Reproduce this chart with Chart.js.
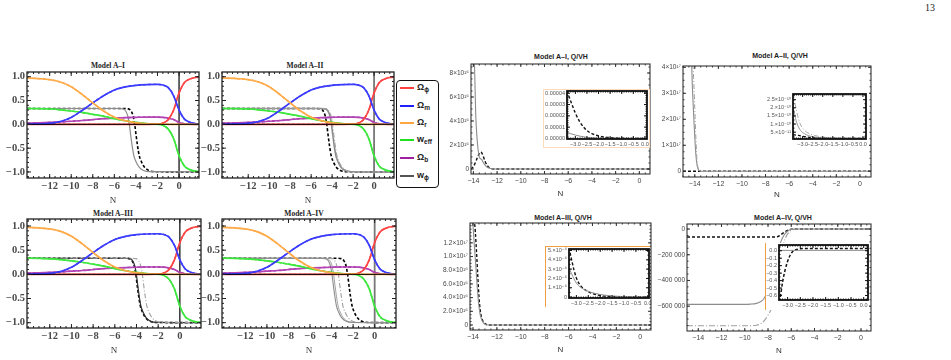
<!DOCTYPE html>
<html>
<head>
<meta charset="utf-8">
<script src="https://cdn.jsdelivr.net/npm/chart.js@4.4.1/dist/chart.umd.min.js"></script>
<style>
  html, body { margin: 0; padding: 0; background: #fff; }
  #page { position: relative; width: 951px; height: 360px; overflow: hidden; }
  canvas { position: absolute; }
  .ttl { position: absolute; transform: translateX(-50%); white-space: nowrap; line-height: 10px; }
  .serif { font-family: "Liberation Serif", serif; font-weight: bold; font-size: 7.5px; color: #222; }
  .sans { font-family: "Liberation Sans", Arial, sans-serif; font-weight: bold; font-size: 7px; color: #222; }
  .box { position: absolute; background: #fff; box-sizing: border-box; }
  #legend { position: absolute; left: 396px; top: 80px; width: 43px; height: 108px; box-sizing: border-box;
            border: 1px solid #111; border-radius: 4px; background: #fff; }
  .li { position: absolute; left: 3px; height: 12px; line-height: 12px; font: bold 9px "Liberation Sans", Arial, sans-serif; color: #222; }
  .li i { display: inline-block; width: 14px; height: 2px; vertical-align: middle; margin-right: 3px; }
  .li sub { font-size: 6.5px; vertical-align: -2px; }
  #pg { position: absolute; left: 925px; top: 2px; font: 10px "Liberation Serif", serif; color: #222; }
</style>
</head>
<body>
<div id="page">
  <div id="pg">13</div>
  <div class="ttl serif" style="left:108px;top:61px">Model A–I</div>
  <div class="ttl serif" style="left:305px;top:61px">Model A–II</div>
  <div class="ttl serif" style="left:113px;top:209px">Model A–III</div>
  <div class="ttl serif" style="left:304px;top:209px">Model A–IV</div>
  <div class="ttl sans" style="left:561px;top:52px">Model A–I, Q/VH</div>
  <div class="ttl sans" style="left:780px;top:51px">Model A–II, Q/VH</div>
  <div class="ttl sans" style="left:563px;top:213px">Model A–III, Q/VH</div>
  <div class="ttl sans" style="left:783px;top:213px">Model A–IV, Q/VH</div>
  <div id="legend">
    <div class="li" style="top:1px"><i style="background:#ff4040"></i>Ω<sub>ϕ</sub></div>
    <div class="li" style="top:19px"><i style="background:#2020ff"></i>Ω<sub>m</sub></div>
    <div class="li" style="top:36px"><i style="background:#ffa640"></i>Ω<sub>r</sub></div>
    <div class="li" style="top:53px"><i style="background:#20e020"></i>w<sub>eff</sub></div>
    <div class="li" style="top:71px"><i style="background:#a020a0"></i>Ω<sub>b</sub></div>
    <div class="li" style="top:89px"><i style="background:#555"></i>w<sub>ϕ</sub></div>
  </div>
</div>
<script>
// ─── left panels: density parameters and EoS vs N ─────────────────────────────
const nOmega   = [-14.5, -14, -13, -12, -11, -10, -9, -8, -7, -6, -5, -4, -3, -2, -1.5, -1, -0.5, 0, 0.5, 1, 1.5, 2];
const omegaPhi = [0, 0, 0, 0, 0, 0, 0, 0, 0, 0, 0, 0, 0.001, 0.004, 0.025, 0.1, 0.3, 0.66, 0.878, 0.951, 0.984, 0.994];
const omegaM   = [0.001, 0.003, 0.008, 0.02, 0.06, 0.145, 0.29, 0.45, 0.6, 0.72, 0.785, 0.82, 0.835, 0.84, 0.825, 0.77, 0.6, 0.3, 0.11, 0.045, 0.015, 0.006];
const omegaR   = [0.972, 0.97, 0.96, 0.94, 0.89, 0.79, 0.63, 0.45, 0.28, 0.15, 0.075, 0.033, 0.012, 0.004, 0.002, 0.001, 0, 0, 0, 0, 0, 0];
const wEff     = [0.333, 0.333, 0.33, 0.322, 0.305, 0.28, 0.25, 0.21, 0.17, 0.12, 0.075, 0.04, 0.015, 0, -0.02, -0.1, -0.3, -0.66, -0.878, -0.951, -0.984, -0.994];
const omegaB   = [0.027, 0.027, 0.032, 0.04, 0.05, 0.065, 0.08, 0.1, 0.12, 0.13, 0.14, 0.147, 0.152, 0.152, 0.148, 0.13, 0.1, 0.04, 0.012, 0.004, 0.001, 0];

// w_phi transition shape, and the N values for each model's curves
const wPhiDrop   = [0.333, 0.333, 0.325, 0.28, 0.17, -0.02, -0.2, -0.45, -0.65, -0.78, -0.9, -0.97, -0.995, -1];
const nW1Solid   = [-14.5, -5.7, -5.2, -4.95, -4.75, -4.6, -4.5, -4.35, -4.2, -4.0, -3.7, -3.3, -2.7, 2];
const nW1Dash    = [-14.5, -5.2, -4.7, -4.45, -4.25, -4.1, -4.0, -3.85, -3.7, -3.5, -3.2, -2.8, -2.2, 2];
const nW2Dash    = [-14.5, -5.6, -5.1, -4.85, -4.65, -4.5, -4.4, -4.25, -4.1, -3.9, -3.6, -3.2, -2.6, 2];
const nW2Solid   = [-14.5, -5.15, -4.65, -4.4, -4.2, -4.05, -3.95, -3.8, -3.65, -3.45, -3.15, -2.75, -2.15, 2];
const nW2DashDot = [-14.5, -5.05, -4.55, -4.3, -4.1, -3.95, -3.85, -3.7, -3.55, -3.35, -3.05, -2.65, -2.05, 2];
const nW3Dash    = [-14.5, -5.15, -4.65, -4.4, -4.2, -4.05, -3.95, -3.8, -3.65, -3.45, -3.15, -2.75, -2.15, 2];
const nW3Solid   = [-14.5, -5.1, -4.6, -4.35, -4.15, -4.0, -3.9, -3.75, -3.6, -3.4, -3.1, -2.7, -2.1, 2];
const nW3DashDot = [-14.5, -4.55, -4.05, -3.8, -3.6, -3.45, -3.35, -3.2, -3.05, -2.85, -2.55, -2.15, -1.55, 2];
const nW4Solid   = [-14.5, -5.05, -4.55, -4.3, -4.1, -3.95, -3.85, -3.7, -3.55, -3.35, -3.05, -2.65, -2.05, 2];
const nW4Solid2  = [-14.5, -4.9, -4.4, -4.15, -3.95, -3.8, -3.7, -3.55, -3.4, -3.2, -2.9, -2.5, -1.9, 2];
const nW4DashDot = [-14.5, -4.45, -3.95, -3.7, -3.5, -3.35, -3.25, -3.1, -2.95, -2.75, -2.45, -2.05, -1.45, 2];
const nW4Dash    = [-14.5, -3.6, -3.1, -2.85, -2.65, -2.5, -2.4, -2.25, -2.1, -1.9, -1.6, -1.2, -0.6, 2];

const leftXTicks  = [-12, -10, -8, -6, -4, -2, 0];
const leftXLabels = ['−12', '−10', '−8', '−6', '−4', '−2', '0'];
const leftYTicks  = [-1, -0.5, 0, 0.5, 1];
const leftYLabels = ['−1.0', '−0.5', '0.0', '0.5', '1.0'];

// ─── right panels: Q/VH ───────────────────────────────────────────────────────
const qXTicks  = [-14, -12, -10, -8, -6, -4, -2, 0];
const qXLabels = ['−14', '−12', '−10', '−8', '−6', '−4', '−2', '0'];

const nQ1Solid = [-14.2, -14.0, -13.9, -13.8, -13.7, -13.6, -13.5, -13.4, -13.3, -13.2, -13.0, -12.8, -12.5, -12.2, 0.9];
const q1Solid  = [1.6e17, 1.1e17, 8.5e16, 4.5e16, 2.7e16, 1.6e16, 1.0e16, 0.85e16, 0.8e16, 0.6e16, 0.3e16, 0.12e16, 0.03e16, 0, 0];
const nQ1Dash  = [-14.2, -14.0, -13.8, -13.6, -13.4, -13.3, -13.2, -13.0, -12.8, -12.6, -12.3, 0.9];
const q1Dash   = [0, 0.2e16, 0.6e16, 1.1e16, 1.4e16, 1.35e16, 1.15e16, 0.6e16, 0.25e16, 0.08e16, 0, 0];
const q1YTicks  = [0, 2e16, 4e16, 6e16, 8e16];
const q1YLabels = ['0', '2×10¹⁶', '4×10¹⁶', '6×10¹⁶', '8×10¹⁶'];

const nQ2DashDot = [-15.0, -14.4, -14.2, -14.1, -14.0, -13.9, -13.8, -13.7, -13.6, -13.4, 0.94];
const q2DashDot  = [6e17, 5e17, 4.3e17, 3.6e17, 2.4e17, 1.2e17, 0.35e17, 0.1e17, 0.03e17, 0, 0];
const nQ2Solid   = [-15.0, -14.3, -14.2, -14.1, -14.0, -13.9, -13.8, -13.7, -13.6, -13.4, 0.94];
const q2Solid    = [6e17, 4.5e17, 3.2e17, 2.2e17, 1.3e17, 0.6e17, 0.22e17, 0.07e17, 0.02e17, 0, 0];
const nQ2Dash    = [-15.0, 0.94];
const q2Dash     = [0, 0];
const q2YTicks  = [0, 1e17, 2e17, 3e17, 4e17];
const q2YLabels = ['0', '1×10¹⁷', '2×10¹⁷', '3×10¹⁷', '4×10¹⁷'];

const nQ3Dash  = [-14.25, -14.0, -13.9, -13.8, -13.7, -13.6, -13.5, -13.4, -13.2, -13.0, -12.7, 0.9];
const q3Dash   = [2.2e17, 1.7e17, 1.55e17, 1.35e17, 1.05e17, 0.72e17, 0.42e17, 0.22e17, 0.07e17, 0.02e17, 0, 0];
const nQ3Solid = [-14.25, -14.0, -13.9, -13.8, -13.7, -13.6, -13.5, -13.4, -13.2, -13.0, -12.7, 0.9];
const q3Solid  = [2.0e17, 1.45e17, 1.2e17, 0.95e17, 0.7e17, 0.45e17, 0.27e17, 0.15e17, 0.05e17, 0.01e17, 0, 0];
const q3YTicks  = [0, 2e16, 4e16, 6e16, 8e16, 1e17, 1.2e17];
const q3YLabels = ['0', '2.0×10¹⁶', '4.0×10¹⁶', '6.0×10¹⁶', '8.0×10¹⁶', '1.0×10¹⁷', '1.2×10¹⁷'];

const nQ4Dash    = [-14.97, -7.5, -7.2, -7.0, -6.8, -6.6, -6.4, -6.2, -6.0, -5.6, 0.86];
const q4Dash     = [-62000, -62000, -60000, -52000, -38000, -25000, -14000, -6000, -2000, 0, 0];
const nQ4Solid   = [-14.97, -10, -9.5, -9.0, -8.7, -8.4, -8.1, -7.8, -7.5, -7.2, -6.9, -6.6, -6.3, -6.0, -5.5, 0.86];
const q4Solid    = [-586000, -586000, -584000, -578000, -568000, -548000, -500000, -420000, -310000, -190000, -100000, -45000, -15000, -3000, 0, 0];
const nQ4DashDot = [-14.97, -10, -9.0, -8.6, -8.3, -8.0, -7.7, -7.4, -7.1, -6.8, -6.5, -6.2, -5.9, -5.5, 0.86];
const q4DashDot  = [-752000, -752000, -748000, -735000, -710000, -670000, -615000, -500000, -330000, -170000, -70000, -25000, -5000, 0, 0];
const q4YTicks  = [-600000, -400000, -200000, 0];
const q4YLabels = ['−600 000', '−400 000', '−200 000', '0'];

// insets
const insXTicks  = [-3, -2.5, -2, -1.5, -1, -0.5, 0];
const insXLabels = ['−3.0', '−2.5', '−2.0', '−1.5', '−1.0', '−0.5', '0.0'];

const nI1Dash  = [-3.36, -3.2, -3.0, -2.8, -2.6, -2.4, -2.2, -2.0, -1.8, -1.6, -1.4, -1.2, -1.0, 0.09];
const i1Dash   = [4.2e-5, 3.3e-5, 2.25e-5, 1.45e-5, 0.9e-5, 0.55e-5, 0.35e-5, 0.22e-5, 0.14e-5, 0.09e-5, 0.05e-5, 0.03e-5, 0.015e-5, 0];
const nI1Solid = [-3.36, -3.2, -3.0, -2.8, -2.6, -2.4, -2.2, -2.0, -1.8, -1.5, -1.0, 0.09];
const i1Solid  = [0.55e-5, 0.42e-5, 0.3e-5, 0.2e-5, 0.13e-5, 0.08e-5, 0.05e-5, 0.03e-5, 0.02e-5, 0.01e-5, 0.003e-5, 0];
const i1YTicks  = [0, 1e-5, 2e-5, 3e-5, 4e-5];
const i1YLabels = ['0.00000', '0.00001', '0.00002', '0.00003', '0.00004'];

const nI2       = [-3.48, -3.4, -3.3, -3.2, -3.1, -3.0, -2.8, -2.6, -2.4, -2.2, -2.0, -1.6, -1.2, 0.15];
const i2DashDot = [2.9e-10, 2.4e-10, 1.8e-10, 1.3e-10, 0.95e-10, 0.75e-10, 0.5e-10, 0.38e-10, 0.3e-10, 0.24e-10, 0.2e-10, 0.15e-10, 0.12e-10, 0.1e-10];
const i2Solid   = [2.1e-10, 1.6e-10, 1.1e-10, 0.8e-10, 0.6e-10, 0.48e-10, 0.33e-10, 0.25e-10, 0.2e-10, 0.17e-10, 0.15e-10, 0.12e-10, 0.11e-10, 0.1e-10];
const nI2Dash   = [-3.48, -3.2, -3.0, -2.6, -2.2, -1.8, 0.15];
const i2Dash    = [0.35e-10, 0.3e-10, 0.25e-10, 0.18e-10, 0.14e-10, 0.12e-10, 0.11e-10];
const i2YTicks  = [5e-11, 1e-10, 1.5e-10, 2e-10, 2.5e-10];
const i2YLabels = ['5.×10⁻¹¹', '1.×10⁻¹⁰', '1.5×10⁻¹⁰', '2.×10⁻¹⁰', '2.5×10⁻¹⁰'];

const nI3Dash  = [-3.31, -3.2, -3.1, -3.0, -2.9, -2.8, -2.6, -2.4, -2.2, -2.0, -1.8, -1.5, -1.0, 0.05];
const i3Dash   = [5.3e-6, 4.0e-6, 2.9e-6, 2.05e-6, 1.5e-6, 1.15e-6, 0.72e-6, 0.45e-6, 0.28e-6, 0.17e-6, 0.1e-6, 0.05e-6, 0.02e-6, 0];
const nI3Solid = [-3.31, -3.2, -3.1, -3.0, -2.8, -2.6, -2.4, -2.2, -2.0, -1.8, -1.5, -1.0, -0.5, 0.05];
const i3Solid  = [3.1e-6, 2.5e-6, 1.95e-6, 1.5e-6, 1.0e-6, 0.72e-6, 0.52e-6, 0.38e-6, 0.28e-6, 0.2e-6, 0.12e-6, 0.05e-6, 0.02e-6, 0.01e-6];
const i3YTicks  = [0, 1e-6, 2e-6, 3e-6, 4e-6, 5e-6];
const i3YLabels = ['0', '1.×10⁻⁶', '2.×10⁻⁶', '3.×10⁻⁶', '4.×10⁻⁶', '5.×10⁻⁶'];

const nI4Dash  = [-3.34, -3.28, -3.2, -3.1, -3.0, -2.9, -2.8, -2.6, -2.4, -2.0, 0.17];
const i4Dash   = [-0.68, -0.6, -0.42, -0.26, -0.14, -0.06, -0.01, 0.02, 0.03, 0.03, 0.03];
const nI4Solid = [-3.34, 0.17];
const i4Solid  = [0.005, 0.005];
const i4YTicks  = [-0.6, -0.5, -0.4, -0.3, -0.2, -0.1, 0];
const i4YLabels = ['−0.6', '−0.5', '−0.4', '−0.3', '−0.2', '−0.1', '0.0'];

// ─── plugins: Mathematica-style frame with inner ticks, and axes through 0 ────
const framePlugin = {
  id: 'frame',
  afterDatasetsDraw(chart, args, o) {
    if (!o || !o.show) return;
    const { ctx, chartArea: a, scales: { x, y } } = chart;
    ctx.save();
    ctx.strokeStyle = o.color;
    ctx.lineWidth = 1;
    const mark = (scale, v, len, horiz) => {
      const p = scale.getPixelForValue(v);
      if (horiz) {
        ctx.moveTo(p, a.bottom); ctx.lineTo(p, a.bottom - len);
        ctx.moveTo(p, a.top); ctx.lineTo(p, a.top + len);
      } else {
        ctx.moveTo(a.left, p); ctx.lineTo(a.left + len, p);
        ctx.moveTo(a.right, p); ctx.lineTo(a.right - len, p);
      }
    };
    ctx.beginPath();
    for (let v = Math.ceil(x.min / o.xMinor) * o.xMinor; v <= x.max; v += o.xMinor) mark(x, v, o.minorLen, true);
    for (let v = Math.ceil(y.min / o.yMinor) * o.yMinor; v <= y.max; v += o.yMinor) mark(y, v, o.minorLen, false);
    x.ticks.forEach(t => mark(x, t.value, o.majorLen, true));
    y.ticks.forEach(t => mark(y, t.value, o.majorLen, false));
    ctx.stroke();
    ctx.lineWidth = o.width;
    ctx.strokeRect(a.left, a.top, a.right - a.left, a.bottom - a.top);
    ctx.restore();
  }
};

// vertical axis at N = 0 under the curves, horizontal axis at 0 over them
const zeroPlugin = {
  id: 'zeroLines',
  beforeDatasetsDraw(chart, args, o) {
    if (!o || !o.show) return;
    const { ctx, chartArea: a, scales: { x } } = chart;
    ctx.save();
    ctx.strokeStyle = o.vColor; ctx.lineWidth = o.vWidth;
    const px = x.getPixelForValue(0);
    ctx.beginPath(); ctx.moveTo(px, a.top); ctx.lineTo(px, a.bottom); ctx.stroke();
    ctx.restore();
  },
  afterDatasetsDraw(chart, args, o) {
    if (!o || !o.show) return;
    const { ctx, chartArea: a, scales: { y } } = chart;
    ctx.save();
    ctx.strokeStyle = o.hColor; ctx.lineWidth = 1;
    const py = y.getPixelForValue(0);
    ctx.beginPath(); ctx.moveTo(a.left, py); ctx.lineTo(a.right, py); ctx.stroke();
    ctx.restore();
  }
};

// ─── helpers ──────────────────────────────────────────────────────────────────
const page = document.getElementById('page');
const SERIF = '"Liberation Serif", "DejaVu Serif", serif';
const SANS = '"Liberation Sans", "DejaVu Sans", Arial, sans-serif';

const pts = (xs, ys) => xs.map((x, i) => ({ x, y: ys[i] }));

function line(xs, ys, color, width, dash) {
  return {
    data: pts(xs, ys), borderColor: color, borderWidth: width, borderDash: dash || [],
    pointRadius: 0, fill: false, cubicInterpolationMode: 'monotone'
  };
}

function tickAxis(o) {
  return {
    type: 'linear', min: o.min, max: o.max,
    grid: { display: false, drawTicks: false },
    border: { display: false },
    afterBuildTicks: s => { s.ticks = o.ticks.map(v => ({ value: v })); },
    afterFit: s => {
      if (s.isHorizontal()) s.height = o.size; else s.width = o.size;
      s.paddingLeft = s.paddingRight = s.paddingTop = s.paddingBottom = 0;
    },
    ticks: {
      autoSkip: false, maxRotation: 0, minRotation: 0, padding: o.pad, color: o.color, font: o.font,
      callback: v => o.labels[o.ticks.indexOf(v)]
    },
    title: o.title
      ? { display: true, text: o.title, color: '#333', font: o.titleFont, padding: 0 }
      : { display: false }
  };
}

function addBox(l, t, w, h, css) {
  const d = document.createElement('div');
  d.className = 'box';
  d.style.cssText = `left:${l}px;top:${t}px;width:${w}px;height:${h}px;${css || ''}`;
  page.appendChild(d);
}

// box = plot area [x0, y0, x1, y1] in page px; m = margins [left, top, right, bottom]
function makeChart(c) {
  const cv = document.createElement('canvas');
  const w = c.box[2] - c.box[0] + c.m[0] + c.m[2];
  const h = c.box[3] - c.box[1] + c.m[1] + c.m[3];
  cv.width = w; cv.height = h;
  cv.style.left = (c.box[0] - c.m[0]) + 'px';
  cv.style.top = (c.box[1] - c.m[1]) + 'px';
  cv.style.width = w + 'px'; cv.style.height = h + 'px';
  page.appendChild(cv);
  return new Chart(cv, {
    type: 'line',
    data: { datasets: c.sets },
    options: {
      responsive: false, animation: false, events: [],
      layout: { padding: { left: 0, top: c.m[1], right: c.m[2], bottom: 0 } },
      plugins: {
        legend: { display: false }, tooltip: { enabled: false },
        frame: c.frame, zeroLines: c.zero || { show: false }
      },
      scales: { x: tickAxis(c.x), y: tickAxis(c.y) }
    },
    plugins: [zeroPlugin, framePlugin]
  });
}

// ─── left panels ──────────────────────────────────────────────────────────────
function omegaSets() {
  const out = [];
  [[omegaR, '#ffab4a', '#ff8400'], [omegaM, '#3c3cff', '#0000e6'], [omegaPhi, '#ff4646', '#e80000'],
   [wEff, '#3ee83e', '#00c800'], [omegaB, '#b444b4', '#880088']].forEach(([ys, light, dark]) => {
    out.push(line(nOmega, ys, light, 1.7));
    out.push(line(nOmega, ys, dark, 1.3, [3, 2]));
  });
  return out;
}

const leftFont = { family: SERIF, size: 10.5, weight: 'bold' };
const leftFrame = { show: true, color: '#222', width: 1.3, xMinor: 0.5, yMinor: 0.1, minorLen: 2, majorLen: 4 };
const GRAY = '#8c8c8c', LGRAY = '#a0a0a0';

function leftPanel(box, ml, xr, yr, vColor, wSets) {
  makeChart({
    box, m: [ml, 2, 2, 28],
    x: { min: xr[0], max: xr[1], ticks: leftXTicks, labels: leftXLabels, size: 28, pad: 2, color: '#4a4a4a', font: leftFont,
         title: 'N', titleFont: { family: SERIF, size: 9, lineHeight: '10px' } },
    y: { min: yr[0], max: yr[1], ticks: leftYTicks, labels: leftYLabels, size: ml, pad: 2, color: '#4a4a4a', font: leftFont },
    sets: omegaSets().concat(wSets),
    frame: leftFrame,
    zero: { show: true, hColor: '#000', vColor, vWidth: vColor === '#000' ? 1.2 : 1.8 }
  });
}

leftPanel([27, 72, 199, 178], 26, [-14.1, 1.85], [-1.127, 1.099], '#000', [
  line(nW1Solid, wPhiDrop, GRAY, 1.2),
  line(nW1Dash, wPhiDrop, '#000', 1.6, [3, 2])
]);
leftPanel([222, 72, 394, 178], 21, [-14.5, 1.9], [-1.127, 1.099], '#777', [
  line(nW2DashDot, wPhiDrop, LGRAY, 1.1, [5, 2, 1, 2]),
  line(nW2Solid, wPhiDrop, GRAY, 1.6),
  line(nW2Dash, wPhiDrop, '#000', 1.6, [3, 2])
]);
leftPanel([27, 219, 201, 328], 26, [-14.1, 1.95], [-1.11, 1.145], '#000', [
  line(nW3DashDot, wPhiDrop, LGRAY, 1.1, [5, 2, 1, 2]),
  line(nW3Solid, wPhiDrop, '#333', 1.2),
  line(nW3Dash, wPhiDrop, '#000', 1.6, [3, 2])
]);
leftPanel([222, 219, 396, 328], 21, [-14.17, 1.98], [-1.11, 1.145], '#777', [
  line(nW4Solid, wPhiDrop, GRAY, 1.1),
  line(nW4Solid2, wPhiDrop, LGRAY, 1.0),
  line(nW4DashDot, wPhiDrop, LGRAY, 1.1, [5, 2, 1, 2]),
  line(nW4Dash, wPhiDrop, '#000', 1.6, [3, 2])
]);

// ─── right panels ─────────────────────────────────────────────────────────────
const qxFont = { family: SANS, size: 7 };
const qyFont = { family: SANS, size: 6.5 };
const insFont = { family: SANS, size: 5.5 };
const qFrame = yMinor => ({ show: true, color: '#333', width: 1.1, xMinor: 0.5, yMinor, minorLen: 1.5, majorLen: 3 });
const iFrame = yMinor => ({ show: true, color: '#111', width: 1.8, xMinor: 0.1, yMinor, minorLen: 1.5, majorLen: 3 });

function qPanel(box, m, xr, yr, yTicks, yLabels, yMinor, sets) {
  makeChart({
    box, m,
    x: { min: xr[0], max: xr[1], ticks: qXTicks, labels: qXLabels, size: m[3], pad: 3, color: '#444', font: qxFont,
         title: 'N', titleFont: { family: SANS, size: 8, lineHeight: '10px' } },
    y: { min: yr[0], max: yr[1], ticks: yTicks, labels: yLabels, size: m[0], pad: 2, color: '#444', font: qyFont },
    sets, frame: qFrame(yMinor)
  });
}

function inset(box, ml, xr, yr, yTicks, yLabels, yMinor, sets) {
  makeChart({
    box, m: [ml, 2, 4, 10],
    x: { min: xr[0], max: xr[1], ticks: insXTicks, labels: insXLabels, size: 10, pad: 2, color: '#555', font: insFont },
    y: { min: yr[0], max: yr[1], ticks: yTicks, labels: yLabels, size: ml, pad: 2, color: '#555', font: insFont },
    sets, frame: iFrame(yMinor)
  });
}

// A–I
qPanel([471, 64, 650, 174], [22, 2, 3, 25], [-14.2, 0.9], [-0.42e16, 8.75e16], q1YTicks, q1YLabels, 0.5e16, [
  line(nQ1Solid, q1Solid, GRAY, 1.1),
  line(nQ1Dash, q1Dash, '#111', 1.4, [3, 2])
]);
addBox(543, 89, 107, 59, 'border:1px solid #fcdcbc;');
inset([567, 91, 647, 139], 24, [-3.36, 0.09], [-0.05e-5, 4.2e-5], i1YTicks, i1YLabels, 0.2e-5, [
  line(nI1Solid, i1Solid, GRAY, 1.0),
  line(nI1Dash, i1Dash, '#111', 1.4, [3, 2])
]);

// A–II
qPanel([683, 66, 871, 177], [24, 2, 3, 23], [-15.0, 0.94], [-0.22e17, 4.05e17], q2YTicks, q2YLabels, 0.25e17, [
  line(nQ2DashDot, q2DashDot, LGRAY, 1.0, [5, 2, 1, 2]),
  line(nQ2Solid, q2Solid, GRAY, 1.1),
  line(nQ2Dash, q2Dash, '#111', 1.4, [3, 2])
]);
addBox(761, 91, 108, 58);
inset([793, 94, 866, 139], 32, [-3.48, 0.15], [0.08e-10, 2.85e-10], i2YTicks, i2YLabels, 0.25e-10, [
  line(nI2, i2DashDot, LGRAY, 0.9, [5, 2, 1, 2]),
  line(nI2, i2Solid, GRAY, 0.9),
  line(nI2Dash, i2Dash, '#111', 1.3, [3, 2])
]);

// A–III
qPanel([470, 223, 651, 330], [36, 2, 3, 25], [-14.25, 0.9], [-0.073e17, 1.49e17], q3YTicks, q3YLabels, 0.5e16, [
  line(nQ3Solid, q3Solid, GRAY, 1.1),
  line(nQ3Dash, q3Dash, '#111', 1.4, [3, 2])
]);
addBox(545, 246, 105, 61, 'border-top:1px solid #f0a040;border-left:1px solid #f0a040;');
inset([569, 249, 649, 298], 24, [-3.31, 0.05], [-0.1e-6, 5.16e-6], i3YTicks, i3YLabels, 0.5e-6, [
  line(nI3Solid, i3Solid, GRAY, 1.0),
  line(nI3Dash, i3Dash, '#111', 1.4, [3, 2])
]);

// A–IV
qPanel([687, 224, 871, 331], [30, 2, 3, 25], [-14.97, 0.86], [-793000, 39000], q4YTicks, q4YLabels, 50000, [
  line(nQ4Solid, q4Solid, GRAY, 1.1),
  line(nQ4DashDot, q4DashDot, LGRAY, 1.1, [6, 2, 1, 2]),
  line(nQ4Dash, q4Dash, '#111', 1.4, [3, 2])
]);
addBox(765, 243, 104, 67, 'border-left:1px solid #f0a040;');
inset([779, 245, 868, 300], 14, [-3.34, 0.17], [-0.66, 0.077], i4YTicks, i4YLabels, 0.05, [
  line(nI4Solid, i4Solid, GRAY, 1.0),
  line(nI4Dash, i4Dash, '#111', 1.5, [3, 2])
]);
</script>
</body>
</html>
